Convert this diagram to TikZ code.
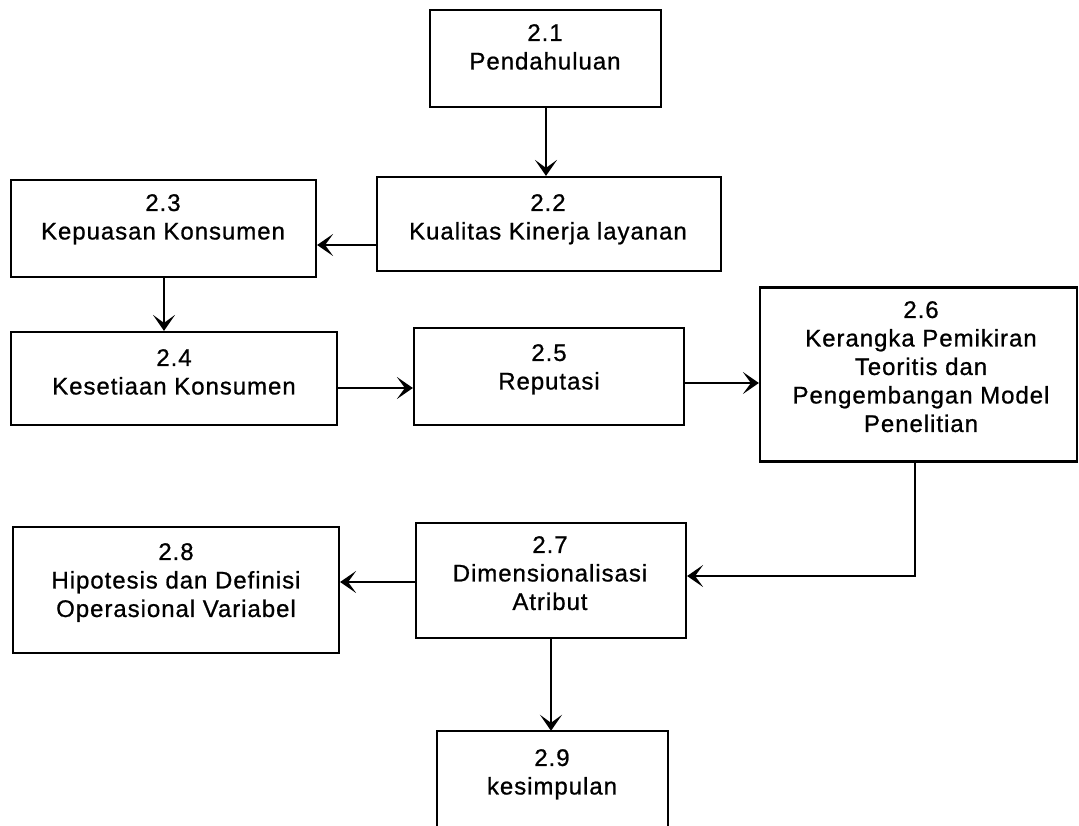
\documentclass[tikz,border=0pt]{standalone}
\usepackage{fontspec}
\setmainfont{Liberation Sans}[LetterSpace=4,FakeBold=0.8]
\usetikzlibrary{arrows.meta}
\begin{document}
\begin{tikzpicture}[x=1pt,y=-1pt,
  box/.style={draw=black,line width=2.2pt,rectangle,inner sep=0pt},
  openbox/.style={draw=none,rectangle,inner sep=0pt},
  label/.style={align=center,inner sep=0pt,anchor=north,
    font={\fontsize{24}{28.5}\selectfont}},
  link/.style={line width=1.8pt,-{Stealth[length=16pt,width=22pt,inset=8pt]}}]
\useasboundingbox[fill=white] (0,0) rectangle (1079,825);

% boxes, each placed by its corners
\node[box,minimum width=231pt,minimum height=97pt]  (b1) at (545.5,58.5) {};
\node[box,minimum width=344pt,minimum height=94pt]  (b2) at (549,224) {};
\node[box,minimum width=305pt,minimum height=97pt]  (b3) at (163.5,228.5) {};
\node[box,minimum width=326pt,minimum height=93pt]  (b4) at (174,378.5) {};
\node[box,minimum width=270pt,minimum height=97pt]  (b5) at (549,376.5) {};
\node[box,minimum width=317pt,minimum height=174pt] (b6) at (918.5,374.5) {};
\node[box,minimum width=270pt,minimum height=115pt] (b7) at (551,580.5) {};
\node[box,minimum width=326pt,minimum height=126pt] (b8) at (176,590) {};
\node[openbox,minimum width=231pt,minimum height=120pt] (b9) at (552.5,791) {};
\draw[line width=2.2pt] (b9.south west) -- (b9.north west) -- (b9.north east) -- (b9.south east);

% texts
\node[label] (t1) at (545,24)  {2.1\\Pendahuluan};
\node[label] (t2) at (548,194) {2.2\\Kualitas Kinerja layanan};
\node[label] (t3) at (163,194) {2.3\\Kepuasan Konsumen};
\node[label] (t4) at (174,349) {2.4\\Kesetiaan Konsumen};
\node[label] (t5) at (549,344) {2.5\\Reputasi};
\node[label] (t6) at (921,301) {2.6\\Kerangka Pemikiran\\Teoritis dan\\Pengembangan Model\\Penelitian};
\node[label] (t7) at (550,536) {2.7\\Dimensionalisasi\\Atribut};
\node[label] (t8) at (176,543) {2.8\\Hipotesis dan Definisi\\Operasional Variabel};
\node[label] (t9) at (552,749) {2.9\\kesimpulan};

% connectors
\coordinate (c6) at (915,576);
\draw[link] (b1.south -| 546,0) -- (b2.north -| 546,0);
\draw[link] (b2.west |- 0,245) -- (b3.east |- 0,245);
\draw[link] (b3.south -| 164,0) -- (b4.north -| 164,0);
\draw[link] (b4.east |- 0,388) -- (b5.west |- 0,388);
\draw[link] (b5.east |- 0,383) -- (b6.west |- 0,383);
\draw[link] (b6.south -| c6) -- (c6) -- (b7.east |- c6);
\draw[link] (b7.west |- 0,582) -- (b8.east |- 0,582);
\draw[link] (b7.south -| 551,0) -- (b9.north -| 551,0);
\end{tikzpicture}
\end{document}
